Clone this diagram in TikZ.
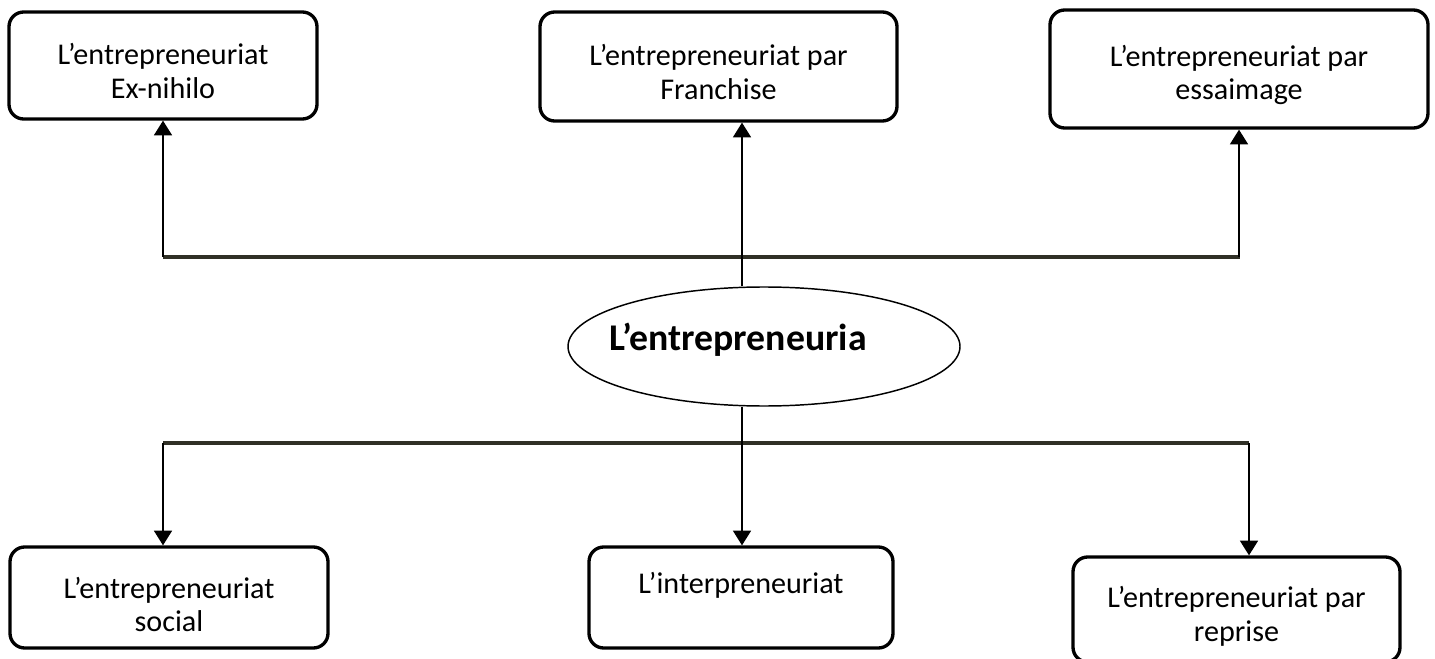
\documentclass[tikz,border=0pt]{standalone}
\usepackage{fontspec}
\setmainfont{Carlito}
\usetikzlibrary{arrows.meta,shapes.geometric}
\definecolor{busc}{RGB}{48,48,38}
\begin{document}
\begin{tikzpicture}[x=0.75pt,y=-0.75pt,
  box/.style={draw=black,line width=2.5pt,rounded corners=11pt,inner sep=0pt},
  txt/.style={align=center,inner sep=0pt,font=\fontsize{22.6pt}{25pt}\selectfont},
  bus/.style={draw=busc,line width=2.4pt},
  arr/.style={draw=black,line width=1.1pt,-{Triangle[width=13.5pt,length=11pt]}}]
\useasboundingbox (0,0) rectangle (1435,659);
\node[box,minimum width=231pt,minimum height=80.25pt] (b1) at (163,65.5) {};
\node[box,minimum width=267.75pt,minimum height=81.75pt] (b2) at (718.5,66.5) {};
\node[box,minimum width=283.5pt,minimum height=88.5pt] (b3) at (1239,69) {};
\node[box,minimum width=238.5pt,minimum height=75.75pt] (b4) at (169,597.5) {};
\node[box,minimum width=228pt,minimum height=75.75pt] (b5) at (741,597.5) {};
\node[box,minimum width=245.25pt,minimum height=78.75pt] (b6) at (1236.5,609.5) {};
\node[txt] (t1) at ([yshift=-4pt]b1.center) {L’entrepreneuriat\\Ex-nihilo};
\node[txt] (t2) at ([yshift=-4pt]b2.center) {L’entrepreneuriat par\\Franchise};
\node[txt] (t3) at ([yshift=-4.5pt]b3.center) {L’entrepreneuriat par\\essaimage};
\node[txt] (t4) at ([yshift=-5pt]b4.center) {L’entrepreneuriat\\social};
\node[txt] (t5) at ([yshift=-5pt]b5.center) {L’interpreneuriat\\\strut};
\node[txt] (t6) at ([yshift=-5pt]b6.center) {L’entrepreneuriat par\\reprise};
\node[ellipse,draw=black,line width=1.1pt,inner sep=0pt,minimum width=294pt,minimum height=89.25pt] (e) at (764,346.5) {};
\node[inner sep=0pt,font=\fontsize{28.3pt}{33pt}\selectfont\bfseries] (et) at (738,340) {L’entrepreneuria};
\coordinate (tl) at (163,257);
\coordinate (tr) at (1240,257);
\coordinate (c) at (742,0);
\coordinate (bl) at (163,443);
\coordinate (br) at (1249,443);
\coordinate (tri) at (1239,257);
\draw[bus] (tl) -- (tr);
\draw[bus] (bl) -- (br);
\draw[arr] (tl) -- (b1.south);
\draw[arr] (c |- e.north) -- (c |- b2.south);
\draw[arr] (tri) -- (tri |- b3.south);
\draw[arr] (c |- e.south) -- (c |- b5.north);
\draw[arr] (bl) -- (bl |- b4.north);
\draw[arr] (br) -- (br |- b6.north);
\end{tikzpicture}
\end{document}
